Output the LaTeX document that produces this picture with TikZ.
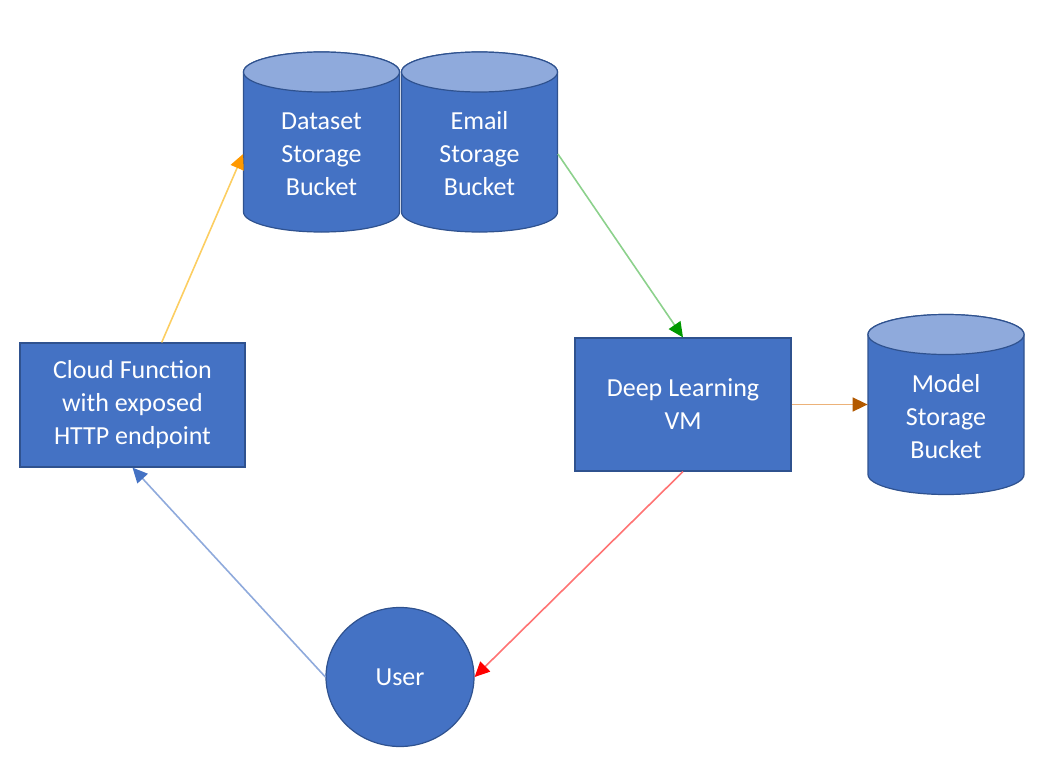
\documentclass[tikz,border=0pt]{standalone}
\usepackage{fontspec}
\setmainfont{Carlito}
\usetikzlibrary{arrows.meta,calc,shapes.geometric}
\definecolor{boxblue}{HTML}{4472C4}
\definecolor{edgeblue}{HTML}{2F528F}
\definecolor{lidblue}{HTML}{8FAADC}
\newcommand{\bucket}[3]{\filldraw[edgeblue, fill=boxblue, line width=0.6pt] (#1) ++(-78,-70) --++ (0,140)
 	arc[start angle=180, end angle=360, x radius=39pt, y radius=10pt] --++ (0,-140)
 	arc[start angle=0, end angle=180, x radius=39pt, y radius=10pt] -- cycle;
 	\filldraw[edgeblue, fill=lidblue, line width=0.6pt] (#1) ++(0,-70) ellipse[x radius=39pt, y radius=10pt];
 	\node[label] (#2) at ($(#1)+(0,12)$) {#3}}
\tikzset{
 	label/.style={text=white, align=center, font=\fontsize{13}{16.5}\selectfont,
 		minimum width=78pt, minimum height=79pt, inner sep=0pt},
 	block/.style={label, draw=edgeblue, fill=boxblue, line width=0.6pt},
 	flow/.style 2 args={draw=#1, line width=0.8pt,
 		-{Triangle[length=7.5pt, width=7pt, color=#2]}}
}

\begin{document}
\begin{tikzpicture}[x=0.5pt, y=-0.5pt]
\useasboundingbox (0,0) rectangle (1044,760);
%Buckets
	\bucket{321.5,142}{dataset}{Dataset\\Storage\\Bucket};
	\bucket{479.5,142}{email}{Email\\Storage\\Bucket};
	\bucket{946,404.5}{model}{Model\\Storage\\Bucket};
%Boxes
	\node[block, minimum width=112.5pt, minimum height=62pt] (cloud) at (132.5,405)
		{Cloud Function\\with exposed\\HTTP endpoint};
	\node[block, minimum width=108pt, minimum height=66.5pt] (vm) at (683,404.5)
		{Deep Learning\\VM};
	\node[block, ellipse, minimum width=74pt, minimum height=69.5pt] (user) at (400,677) {User};
%Arrows
	\draw[flow={yellow!40!orange!60}{orange!80!yellow}] (cloud.65) -- (dataset.west);
	\draw[flow={green!60!black!45!white}{green!60!black}] (email.east) -- (vm.north);
	\draw[flow={orange!50!brown!60}{orange!70!black}] (vm.east) -- (vm.east -| model.west);
	\draw[flow={red!55}{red}] (vm.south) -- (user.east);
	\draw[flow={lidblue}{boxblue}] (user.west) -- (cloud.south);
\end{tikzpicture}
\end{document}
